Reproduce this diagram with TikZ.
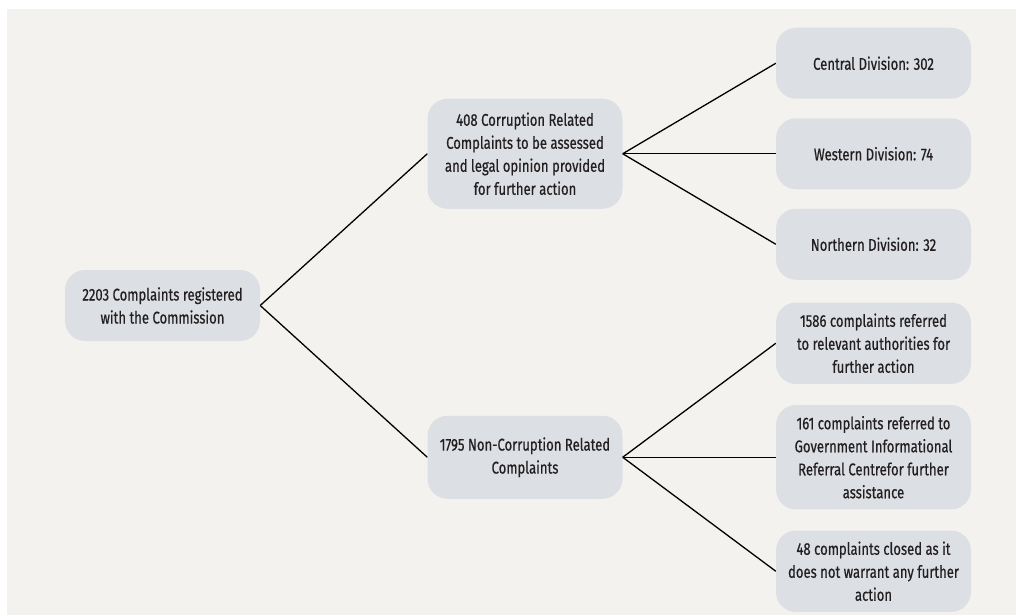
\documentclass[tikz,border=0pt]{standalone}
\usepackage{fontspec}
\setmainfont{Fira Sans}[FakeStretch=0.77,FakeBold=0.6]
\definecolor{paper}{HTML}{F3F2EE}
\definecolor{boxfill}{HTML}{DCE0E4}
\definecolor{ink}{HTML}{231F20}
\begin{document}
\begin{tikzpicture}[x=1pt,y=-1pt,
			% Define styles for nodes
			grow'=right,
			level 1/.style={level distance=362.5pt, sibling distance=303.5pt},
			level 2/.style={level distance=348.5pt, sibling distance=90.5pt},
			every node/.style={fill=boxfill, rounded corners=20pt, align=center, text=ink,
				minimum width=195pt, minimum height=71pt, inner ysep=11pt,
				font=\fontsize{17}{23}\selectfont},
			edge from parent/.style={draw, line width=1.3pt, black},
			edge from parent path={(\tikzparentnode.east) -- (\tikzchildnode.west)}
		]

		% Background
		\useasboundingbox (0,0) rectangle (1016,615);
		\fill[paper] (7,9) rectangle (1016,615);

		% Root node
		\node (reg) at (162.5,305.5) {2203 Complaints registered\\with the Commission}
		% First level
		child {node[minimum height=110pt] (corr) {408 Corruption Related\\Complaints to be assessed\\and legal opinion provided\\for further action}
				% Second level
				child {node (central) {Central Division: 302}}
				child {node (western) {Western Division: 74}}
				child {node (northern) {Northern Division: 32}}
			}
		child {node[minimum height=83pt] (noncorr) {1795 Non-Corruption Related\\Complaints}
				% Second level
				child[sibling distance=114pt] {node (referred) {1586 complaints referred\\to relevant authorities for\\further action}}
				child[sibling distance=114pt] {node (gic) {161 complaints referred to\\Government Informational\\Referral Centrefor further\\assistance}}
				child[sibling distance=114pt] {node (closed) {48 complaints closed as it\\does not warrant any further\\action}}
			};
	\end{tikzpicture}
\end{document}
